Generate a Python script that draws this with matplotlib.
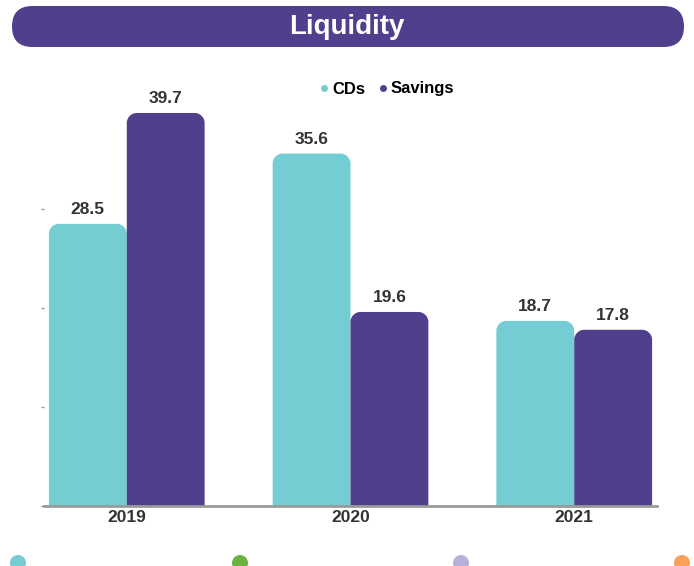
"""
Liquidity chart: CDs vs Savings by year, rounded-top grouped bars.
"""

import matplotlib
matplotlib.use("Agg")
import matplotlib.pyplot as plt
import numpy as np
from matplotlib import font_manager
from matplotlib.path import Path
from matplotlib.patches import PathPatch, FancyBboxPatch, Ellipse
from matplotlib.lines import Line2D

years = ["2019", "2020", "2021"]
cds = [28.5, 35.6, 18.7]
savings = [39.7, 19.6, 17.8]
series_names = ["CDs", "Savings"]
title = "Liquidity"

TEAL = "#74CDD2"
PURPLE = "#4F3F8C"
TEXT = "#333333"
footer_colors = [TEAL, "#6BB33F", "#B8B0D9", "#F9A15A"]

W, H = 694, 566

# condensed face for the title if one is installed
names = {f.name for f in font_manager.fontManager.ttflist}
title_family = [n for n in ("Liberation Sans Narrow", "DejaVu Sans Condensed")
                if n in names] + ["Liberation Sans"]


def rounded_bar(ax, x0, width, height, rx, ry, color):
    """Bar with rounded top corners, built in data coordinates."""
    rx = min(rx, width / 2)
    ry = min(ry, height)
    k = 0.5523
    x1 = x0 + width
    verts = [
        (x0, 0),
        (x0, height - ry),
        (x0, height - ry + k * ry), (x0 + rx - k * rx, height), (x0 + rx, height),
        (x1 - rx, height),
        (x1 - rx + k * rx, height), (x1, height - ry + k * ry), (x1, height - ry),
        (x1, 0),
        (x0, 0),
    ]
    codes = [Path.MOVETO, Path.LINETO,
             Path.CURVE4, Path.CURVE4, Path.CURVE4,
             Path.LINETO,
             Path.CURVE4, Path.CURVE4, Path.CURVE4,
             Path.LINETO, Path.CLOSEPOLY]
    ax.add_patch(PathPatch(Path(verts, codes), facecolor=color,
                           edgecolor="none", zorder=2))


fig = plt.figure(figsize=(W / 100, H / 100), dpi=100)

# decorative layer in pixel units
deco = fig.add_axes([0, 0, 1, 1], zorder=0)
deco.set_xlim(0, W)
deco.set_ylim(H, 0)
deco.axis("off")
deco.add_patch(FancyBboxPatch((12, 6), 672, 41,
                              boxstyle="round,pad=0,rounding_size=20.5",
                              facecolor=PURPLE, edgecolor="none"))
deco.text(W / 2, 27, title, color="white", fontsize=20, fontweight="bold",
          family=title_family, stretch="condensed",
          ha="center", va="center")
for cx, c in zip([18, 240, 461, 682], footer_colors):
    deco.add_patch(Ellipse((cx, 563), 16, 16, facecolor=c, edgecolor="none"))

# main chart
ymax = 45
ax_bottom = (H - 506) / H
ax_height = ymax * 9.9 / H
ax = fig.add_axes([44 / W, ax_bottom, (657 - 44) / W, ax_height], zorder=1)
ax.patch.set_alpha(0)

x = np.arange(len(years))
bw = 0.348
px_x = (657 - 44) / 2.74
px_y = 9.9
rx = 10 / px_x
ry = 10 / px_y

for i in range(len(years)):
    rounded_bar(ax, x[i] - bw, bw, cds[i], rx, ry, TEAL)
    rounded_bar(ax, x[i], bw, savings[i], rx, ry, PURPLE)
    ax.text(x[i] - bw / 2, cds[i] + 0.7, f"{cds[i]}", ha="center", va="bottom",
            fontsize=12.5, fontweight="bold", color=TEXT,
            family="Liberation Sans")
    ax.text(x[i] + bw / 2, savings[i] + 0.7, f"{savings[i]}", ha="center",
            va="bottom", fontsize=12.5, fontweight="bold", color=TEXT,
            family="Liberation Sans")

ax.set_xlim(-0.37, 2.37)
ax.set_ylim(0, ymax)
ax.set_xticks(x)
ax.set_xticklabels(years, fontsize=12.5, fontweight="bold", color=TEXT,
                   family="Liberation Sans")
ax.tick_params(axis="x", length=0, pad=3)
ax.set_yticks([0, 10, 20, 30])
ax.tick_params(axis="y", length=2, width=1, color="#999999", labelleft=False)
for s in ["top", "right", "left"]:
    ax.spines[s].set_visible(False)
ax.spines["bottom"].set_color("#9a9a9a")
ax.spines["bottom"].set_linewidth(2)
ax.spines["bottom"].set_zorder(3)

handles = [Line2D([], [], marker="o", linestyle="none", markersize=5,
                  markerfacecolor=c, markeredgecolor="none")
           for c in (TEAL, PURPLE)]
fig.legend(handles, series_names, loc="center", bbox_to_anchor=(386 / W, 1 - 89 / H),
           ncol=2, frameon=False, handletextpad=0.05, columnspacing=0.7,
           handlelength=0.8,
           prop={"family": "Liberation Sans", "weight": "bold", "size": 12})

fig.savefig("out.png", dpi=100)
